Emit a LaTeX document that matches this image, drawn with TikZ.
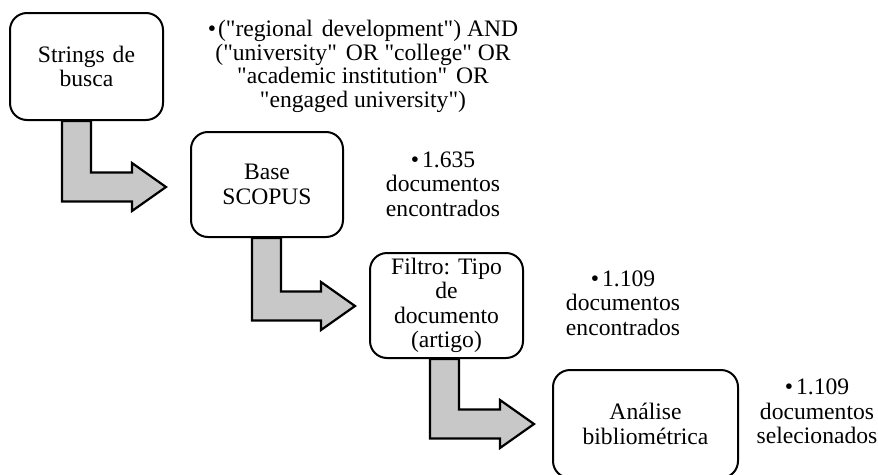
\documentclass[tikz,border=0pt]{standalone}
\usepackage{fontspec}
\setmainfont{Liberation Serif}[Ligatures=TeXOff]
\usetikzlibrary{calc}
\definecolor{arrowgray}{RGB}{200,200,200}
\newcommand\bentarr[2]{%
  \draw[bentarrow] let \p1=(#1), \p2=(#2) in
    (\x1,\y1) -- (\x1+29pt,\y1) -- (\x1+29pt,\y2+14.5pt) -- (\x2-34pt,\y2+14.5pt)
    -- (\x2-34pt,\y2+24pt) -- (\x2,\y2) -- (\x2-34pt,\y2-24pt)
    -- (\x2-34pt,\y2-14.5pt) -- (\x1,\y2-14.5pt) -- cycle;}
\begin{document}
\begin{tikzpicture}[x=1pt,y=-1pt,
  txt/.style={font=\fontsize{23.6}{24.4}\selectfont, align=center, inner sep=0pt},
  stepbox/.style={txt, draw=black, line width=2pt, rounded corners=17pt, fill=white},
  note/.style={txt},
  querynote/.style={txt, font=\fontsize{23.6}{23.7}\selectfont},
  bentarrow/.style={draw=black, line width=2.2pt, fill=arrowgray, line join=miter}]
\useasboundingbox (0,0) rectangle (878,474);
\node[stepbox, minimum width=153pt, minimum height=107pt] (b1) at (86.5,66.5) {Strings\hspace{2pt} de\\busca};
\node[stepbox, minimum width=152pt, minimum height=105pt] (b2) at (267,184.5) {Base\\SCOPUS};
\node[stepbox, minimum width=153pt, minimum height=105pt] (b3) at (446.5,305.5) {Filtro: Tipo\\de\\documento\\(artigo)};
\node[stepbox, minimum width=185pt, minimum height=108pt] (b4) at (645.5,424) {Análise\\bibliométrica};
\coordinate (s1) at ($(b1.south west)+(53,0)$);
\coordinate (t1) at ($(b2.west)+(-24,2.5)$);
\coordinate (s2) at ($(b2.south west)+(62,0)$);
\coordinate (t2) at ($(b3.west)+(-14,0.5)$);
\coordinate (s3) at ($(b3.south west)+(61,0)$);
\coordinate (t3) at ($(b4.west)+(-18,0)$);
\bentarr{s1}{t1}
\bentarr{s2}{t2}
\bentarr{s3}{t3}
\node[querynote] (q1) at (363,66.5) {•\kern2pt("regional\hspace{3pt} development") AND\\("university"\hspace{3pt} OR "college" OR\\"academic institution"\hspace{3pt} OR\\"engaged university")};
\node[note] (q2) at (443,184) {•\kern3pt1.635\\documentos\\encontrados};
\node[note] (q3) at (623,303) {•\kern3pt1.109\\documentos\\encontrados};
\node[note] (q4) at (817,411.5) {•\kern3pt1.109\\documentos\\selecionados};
\end{tikzpicture}
\end{document}
